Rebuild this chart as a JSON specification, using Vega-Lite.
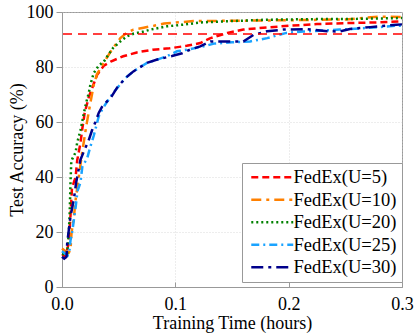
{
  "$schema": "https://vega.github.io/schema/vega-lite/v6.json",
  "autosize": {"type": "none"},
  "padding": {"left": 62, "top": 12, "right": 13, "bottom": 47},
  "width": 340,
  "height": 275,
  "config": {
    "view": {"stroke": "#999", "strokeWidth": 1},
    "font": "Liberation Serif",
    "axis": {
      "labelFont": "Liberation Serif",
      "titleFont": "Liberation Serif",
      "labelFontSize": 18,
      "titleFontSize": 18,
      "titleFontWeight": "normal",
      "labelColor": "#000",
      "titleColor": "#000",
      "domainColor": "#999",
      "tickColor": "#999",
      "gridColor": "#ccc",
      "gridDash": [1, 2],
      "gridWidth": 0.7
    },
    "legend": {
      "labelFont": "Liberation Serif",
      "labelFontSize": 18.5,
      "labelColor": "#000"
    }
  },
  "data": {
    "values": [
      {"s":"FedEx(U=5)","t":0,"acc":12},{"s":"FedEx(U=5)","t":0.003,"acc":11},{"s":"FedEx(U=5)","t":0.006,"acc":16},{"s":"FedEx(U=5)","t":0.0075,"acc":26},{"s":"FedEx(U=5)","t":0.0088,"acc":36},{"s":"FedEx(U=5)","t":0.012,"acc":40},{"s":"FedEx(U=5)","t":0.0134,"acc":46},{"s":"FedEx(U=5)","t":0.0163,"acc":52.4},{"s":"FedEx(U=5)","t":0.0178,"acc":57.2},{"s":"FedEx(U=5)","t":0.02,"acc":63.3},{"s":"FedEx(U=5)","t":0.0236,"acc":69},{"s":"FedEx(U=5)","t":0.031,"acc":77.2},{"s":"FedEx(U=5)","t":0.037,"acc":80.5},{"s":"FedEx(U=5)","t":0.043,"acc":82},{"s":"FedEx(U=5)","t":0.054,"acc":83.9},{"s":"FedEx(U=5)","t":0.066,"acc":85.3},{"s":"FedEx(U=5)","t":0.08,"acc":86.3},{"s":"FedEx(U=5)","t":0.095,"acc":86.8},{"s":"FedEx(U=5)","t":0.11,"acc":87.7},{"s":"FedEx(U=5)","t":0.122,"acc":88.7},{"s":"FedEx(U=5)","t":0.131,"acc":90.5},{"s":"FedEx(U=5)","t":0.146,"acc":92.4},{"s":"FedEx(U=5)","t":0.16,"acc":93.6},{"s":"FedEx(U=5)","t":0.181,"acc":94.4},{"s":"FedEx(U=5)","t":0.201,"acc":95},{"s":"FedEx(U=5)","t":0.225,"acc":95.6},{"s":"FedEx(U=5)","t":0.254,"acc":96},{"s":"FedEx(U=5)","t":0.278,"acc":96.2},{"s":"FedEx(U=5)","t":0.3,"acc":96.6},
      {"s":"FedEx(U=10)","t":0,"acc":14},{"s":"FedEx(U=10)","t":0.003,"acc":13},{"s":"FedEx(U=10)","t":0.006,"acc":12.5},{"s":"FedEx(U=10)","t":0.0075,"acc":13.5},{"s":"FedEx(U=10)","t":0.0084,"acc":19.7},{"s":"FedEx(U=10)","t":0.0104,"acc":25},{"s":"FedEx(U=10)","t":0.012,"acc":31.7},{"s":"FedEx(U=10)","t":0.0148,"acc":40},{"s":"FedEx(U=10)","t":0.0178,"acc":49},{"s":"FedEx(U=10)","t":0.0216,"acc":59},{"s":"FedEx(U=10)","t":0.0245,"acc":65.7},{"s":"FedEx(U=10)","t":0.028,"acc":73.5},{"s":"FedEx(U=10)","t":0.031,"acc":77.5},{"s":"FedEx(U=10)","t":0.034,"acc":79.5},{"s":"FedEx(U=10)","t":0.039,"acc":83},{"s":"FedEx(U=10)","t":0.044,"acc":86.3},{"s":"FedEx(U=10)","t":0.0515,"acc":90.5},{"s":"FedEx(U=10)","t":0.057,"acc":92.4},{"s":"FedEx(U=10)","t":0.063,"acc":93.6},{"s":"FedEx(U=10)","t":0.072,"acc":94.3},{"s":"FedEx(U=10)","t":0.081,"acc":95},{"s":"FedEx(U=10)","t":0.09,"acc":95.8},{"s":"FedEx(U=10)","t":0.105,"acc":96.3},{"s":"FedEx(U=10)","t":0.116,"acc":96.7},{"s":"FedEx(U=10)","t":0.15,"acc":96.8},{"s":"FedEx(U=10)","t":0.2,"acc":97},{"s":"FedEx(U=10)","t":0.25,"acc":97.3},{"s":"FedEx(U=10)","t":0.28,"acc":98.3},{"s":"FedEx(U=10)","t":0.3,"acc":98.2},
      {"s":"FedEx(U=20)","t":0,"acc":12},{"s":"FedEx(U=20)","t":0.003,"acc":12},{"s":"FedEx(U=20)","t":0.0046,"acc":12},{"s":"FedEx(U=20)","t":0.006,"acc":20},{"s":"FedEx(U=20)","t":0.0068,"acc":27},{"s":"FedEx(U=20)","t":0.0075,"acc":38},{"s":"FedEx(U=20)","t":0.0082,"acc":45.7},{"s":"FedEx(U=20)","t":0.009,"acc":46.5},{"s":"FedEx(U=20)","t":0.012,"acc":49},{"s":"FedEx(U=20)","t":0.0134,"acc":52.5},{"s":"FedEx(U=20)","t":0.0163,"acc":57},{"s":"FedEx(U=20)","t":0.0178,"acc":60},{"s":"FedEx(U=20)","t":0.0192,"acc":63},{"s":"FedEx(U=20)","t":0.0213,"acc":67},{"s":"FedEx(U=20)","t":0.0236,"acc":70.5},{"s":"FedEx(U=20)","t":0.025,"acc":73.5},{"s":"FedEx(U=20)","t":0.028,"acc":77.8},{"s":"FedEx(U=20)","t":0.0324,"acc":80.5},{"s":"FedEx(U=20)","t":0.037,"acc":82},{"s":"FedEx(U=20)","t":0.04,"acc":83.9},{"s":"FedEx(U=20)","t":0.045,"acc":86.9},{"s":"FedEx(U=20)","t":0.0515,"acc":89.3},{"s":"FedEx(U=20)","t":0.057,"acc":91.1},{"s":"FedEx(U=20)","t":0.063,"acc":92.1},{"s":"FedEx(U=20)","t":0.072,"acc":92.9},{"s":"FedEx(U=20)","t":0.078,"acc":93.6},{"s":"FedEx(U=20)","t":0.0927,"acc":94.8},{"s":"FedEx(U=20)","t":0.107,"acc":95.4},{"s":"FedEx(U=20)","t":0.122,"acc":96.2},{"s":"FedEx(U=20)","t":0.15,"acc":96.7},{"s":"FedEx(U=20)","t":0.181,"acc":97.2},{"s":"FedEx(U=20)","t":0.22,"acc":97.4},{"s":"FedEx(U=20)","t":0.26,"acc":97.5},{"s":"FedEx(U=20)","t":0.3,"acc":97.8},
      {"s":"FedEx(U=25)","t":0,"acc":13},{"s":"FedEx(U=25)","t":0.003,"acc":12},{"s":"FedEx(U=25)","t":0.005,"acc":11.5},{"s":"FedEx(U=25)","t":0.0065,"acc":13},{"s":"FedEx(U=25)","t":0.0075,"acc":17},{"s":"FedEx(U=25)","t":0.009,"acc":20},{"s":"FedEx(U=25)","t":0.012,"acc":29},{"s":"FedEx(U=25)","t":0.0137,"acc":35},{"s":"FedEx(U=25)","t":0.0163,"acc":38},{"s":"FedEx(U=25)","t":0.018,"acc":44},{"s":"FedEx(U=25)","t":0.022,"acc":46.5},{"s":"FedEx(U=25)","t":0.025,"acc":51},{"s":"FedEx(U=25)","t":0.028,"acc":55},{"s":"FedEx(U=25)","t":0.0324,"acc":62},{"s":"FedEx(U=25)","t":0.036,"acc":65},{"s":"FedEx(U=25)","t":0.04,"acc":67.5},{"s":"FedEx(U=25)","t":0.045,"acc":70.5},{"s":"FedEx(U=25)","t":0.05,"acc":73},{"s":"FedEx(U=25)","t":0.056,"acc":76},{"s":"FedEx(U=25)","t":0.063,"acc":78.4},{"s":"FedEx(U=25)","t":0.075,"acc":81.5},{"s":"FedEx(U=25)","t":0.084,"acc":82.7},{"s":"FedEx(U=25)","t":0.093,"acc":84},{"s":"FedEx(U=25)","t":0.1015,"acc":85.7},{"s":"FedEx(U=25)","t":0.113,"acc":86.5},{"s":"FedEx(U=25)","t":0.125,"acc":87.5},{"s":"FedEx(U=25)","t":0.134,"acc":88.5},{"s":"FedEx(U=25)","t":0.15,"acc":89},{"s":"FedEx(U=25)","t":0.166,"acc":89.3},{"s":"FedEx(U=25)","t":0.181,"acc":90.5},{"s":"FedEx(U=25)","t":0.198,"acc":92.4},{"s":"FedEx(U=25)","t":0.213,"acc":92.9},{"s":"FedEx(U=25)","t":0.245,"acc":93.6},{"s":"FedEx(U=25)","t":0.269,"acc":94.2},{"s":"FedEx(U=25)","t":0.295,"acc":95},{"s":"FedEx(U=25)","t":0.3,"acc":95},
      {"s":"FedEx(U=30)","t":0,"acc":11},{"s":"FedEx(U=30)","t":0.002,"acc":10.3},{"s":"FedEx(U=30)","t":0.004,"acc":11},{"s":"FedEx(U=30)","t":0.0046,"acc":16},{"s":"FedEx(U=30)","t":0.0075,"acc":25.7},{"s":"FedEx(U=30)","t":0.0105,"acc":32},{"s":"FedEx(U=30)","t":0.0125,"acc":38},{"s":"FedEx(U=30)","t":0.0163,"acc":46.3},{"s":"FedEx(U=30)","t":0.02,"acc":50},{"s":"FedEx(U=30)","t":0.0233,"acc":53},{"s":"FedEx(U=30)","t":0.0265,"acc":57},{"s":"FedEx(U=30)","t":0.0295,"acc":60},{"s":"FedEx(U=30)","t":0.0324,"acc":63.3},{"s":"FedEx(U=30)","t":0.036,"acc":66},{"s":"FedEx(U=30)","t":0.043,"acc":68.8},{"s":"FedEx(U=30)","t":0.0486,"acc":72.5},{"s":"FedEx(U=30)","t":0.056,"acc":76},{"s":"FedEx(U=30)","t":0.063,"acc":78.4},{"s":"FedEx(U=30)","t":0.075,"acc":81.5},{"s":"FedEx(U=30)","t":0.084,"acc":82.7},{"s":"FedEx(U=30)","t":0.097,"acc":84},{"s":"FedEx(U=30)","t":0.106,"acc":85},{"s":"FedEx(U=30)","t":0.113,"acc":86.3},{"s":"FedEx(U=30)","t":0.122,"acc":87.5},{"s":"FedEx(U=30)","t":0.131,"acc":89.3},{"s":"FedEx(U=30)","t":0.16,"acc":89.3},{"s":"FedEx(U=30)","t":0.169,"acc":91.7},{"s":"FedEx(U=30)","t":0.181,"acc":93},{"s":"FedEx(U=30)","t":0.195,"acc":93.6},{"s":"FedEx(U=30)","t":0.216,"acc":93.8},{"s":"FedEx(U=30)","t":0.234,"acc":93},{"s":"FedEx(U=30)","t":0.245,"acc":92.9},{"s":"FedEx(U=30)","t":0.254,"acc":93.8},{"s":"FedEx(U=30)","t":0.272,"acc":94.5},{"s":"FedEx(U=30)","t":0.295,"acc":95.4},{"s":"FedEx(U=30)","t":0.3,"acc":95.5}
    ]
  },
  "layer": [
    {
      "mark": {"type": "line", "strokeWidth": 2.5, "strokeCap": "butt"},
      "encoding": {
        "x": {
          "field": "t", "type": "quantitative",
          "scale": {"domain": [0, 0.3], "nice": false},
          "axis": {"values": [0, 0.1, 0.2, 0.3], "format": ".1f", "title": "Training Time (hours)", "tickSize": -5, "labelPadding": 13, "labelFlush": false, "titlePadding": 1}
        },
        "y": {
          "field": "acc", "type": "quantitative",
          "scale": {"domain": [0, 100], "nice": false},
          "axis": {"values": [0, 20, 40, 60, 80, 100], "title": "Test Accuracy (%)", "tickSize": 6, "labelPadding": 3, "titlePadding": 0}
        },
        "color": {
          "field": "s", "type": "nominal",
          "scale": {
            "domain": ["FedEx(U=5)", "FedEx(U=10)", "FedEx(U=20)", "FedEx(U=25)", "FedEx(U=30)"],
            "range": ["#ff0000", "#ff8000", "#008000", "#1aa3ff", "#00008b"]
          },
          "legend": {
            "title": null, "orient": "none", "legendX": 180, "legendY": 151,
            "padding": 5, "rowPadding": 3.5, "strokeColor": "#999", "fillColor": "#fff",
            "labelFontSize": 18.5, "labelFont": "Liberation Serif",
            "symbolType": "M-4,0H4", "symbolSize": 110, "symbolStrokeWidth": 2.5, "symbolOffset": 16, "labelOffset": 12
          }
        },
        "strokeDash": {
          "field": "s", "type": "nominal",
          "scale": {
            "domain": ["FedEx(U=5)", "FedEx(U=10)", "FedEx(U=20)", "FedEx(U=25)", "FedEx(U=30)"],
            "range": [[7, 4], [10, 5, 3, 5], [2, 3], [8, 4, 2, 4], [12, 5, 3, 5]]
          },
          "legend": {
            "title": null, "orient": "none", "legendX": 180, "legendY": 151,
            "padding": 5, "rowPadding": 3.5, "strokeColor": "#999", "fillColor": "#fff",
            "labelFontSize": 18.5, "labelFont": "Liberation Serif",
            "symbolType": "M-4,0H4", "symbolSize": 110, "symbolStrokeWidth": 2.5, "symbolOffset": 16, "labelOffset": 12
          }
        }
      }
    },
    {
      "data": {"values": [{"thr": 92}]},
      "mark": {"type": "rule", "color": "#ff0000", "strokeWidth": 1.5, "strokeDash": [9, 6]},
      "encoding": {"y": {"field": "thr", "type": "quantitative"}}
    }
  ]
}
